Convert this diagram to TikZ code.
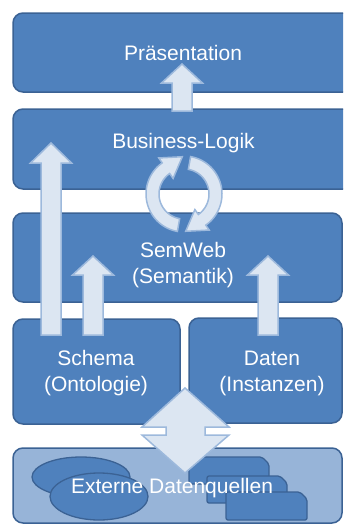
\documentclass[tikz,border=0pt]{standalone}
\usepackage{fontspec}
\setmainfont{Liberation Sans}
\definecolor{boxfill}{HTML}{4F81BD}
\definecolor{boxline}{HTML}{3B6294}
\definecolor{lowfill}{HTML}{97B4D8}
\definecolor{arrfill}{HTML}{DCE6F2}
\definecolor{arrline}{HTML}{9DB9DC}
\newcommand\blockup[4]{% cx, tip y, head base y, bottom y
  \draw[arrowsty] (#1,#2) -- (#1+20.5,#3) -- (#1+10,#3) -- (#1+10,#4) -- (#1-10,#4) -- (#1-10,#3) -- (#1-20.5,#3) -- cycle;}
\newcommand\curvarr[2]{% start angle, end angle
  \draw[arrowsty] plot[domain=#1:#2,samples=40] ({184+38*cos(\x)},{194+38*sin(\x)})
   -- ({184+44*cos(#2)},{194+44*sin(#2)})
   -- ({184+31.5*cos(#2)-20*sin(#2)},{194+31.5*sin(#2)+20*cos(#2)})
   -- ({184+19*cos(#2)},{194+19*sin(#2)})
   -- ({184+25*cos(#2)},{194+25*sin(#2)})
   -- plot[domain=#1:#2,samples=40] ({184+25*cos(#1+#2-\x)},{194+25*sin(#1+#2-\x)}) -- cycle;}
\begin{document}
\begin{tikzpicture}[x=1pt,y=-1pt,
  layer/.style={draw=boxline,fill=boxfill,line width=1.5pt,rounded corners=10pt},
  lowlayer/.style={draw=boxline,fill=lowfill,line width=1.5pt,rounded corners=10pt},
  src/.style={draw=boxline,fill=boxfill,line width=1.3pt},
  arrowsty/.style={draw=arrline,fill=arrfill,line width=1.5pt,line join=miter},
  lbl/.style={text=white,inner sep=0pt,anchor=base,font=\fontsize{21}{26}\selectfont}]
\useasboundingbox (0,0) rectangle (343,525);
\clip (0,0) rectangle (343,525);
% layers
\draw[layer] (13,13) rectangle (365,92);
\draw[layer] (13,109) rectangle (365,189);
\draw[layer] (13,213) rectangle (342,302);
\draw[layer] (13,319) rectangle (180,424);
\draw[layer] (189,318) rectangle (342,423);
\draw[lowlayer] (13,448) rectangle (342,523);
% data sources
\draw[src] (81,477) ellipse [x radius=49,y radius=20];
\draw[src] (99,496.5) ellipse [x radius=49,y radius=23.5];
\draw[src,rounded corners=2pt] (189,457) -- (262,457) -- (269,464) -- (269,484) -- (189,484) -- cycle;
\draw[src,rounded corners=2pt] (207,476) -- (280,476) -- (287,483) -- (287,503) -- (207,503) -- cycle;
\draw[src,rounded corners=2pt] (226,492) -- (300,492) -- (307,499) -- (307,520) -- (226,520) -- cycle;
% arrows
\blockup{182}{64}{83}{111}
\blockup{51}{143}{163}{335}
\blockup{93}{256}{275}{335}
\blockup{268}{256}{275}{335}
\curvarr{100}{235}
\curvarr{280}{415}
\draw[arrowsty] (185,388) -- (229,427) -- (205,427) -- (205,435) -- (229,435) -- (185,473)
  -- (142,435) -- (166,435) -- (166,427) -- (142,427) -- cycle;
% labels
\node[lbl] (praes) at (183,60) {Präsentation};
\node[lbl] (logik) at (183.5,148) {Business-Logik};
\node[lbl] (sem1) at (183,257) {SemWeb};
\node[lbl] (sem2) at (183,283) {(Semantik)};
\node[lbl] (sch1) at (96,365) {Schema};
\node[lbl] (sch2) at (96,391) {(Ontologie)};
\node[lbl] (dat1) at (272,365) {Daten};
\node[lbl] (dat2) at (272,391) {(Instanzen)};
\node[lbl] (ext) at (172,493) {Externe Datenquellen};
\end{tikzpicture}
\end{document}
